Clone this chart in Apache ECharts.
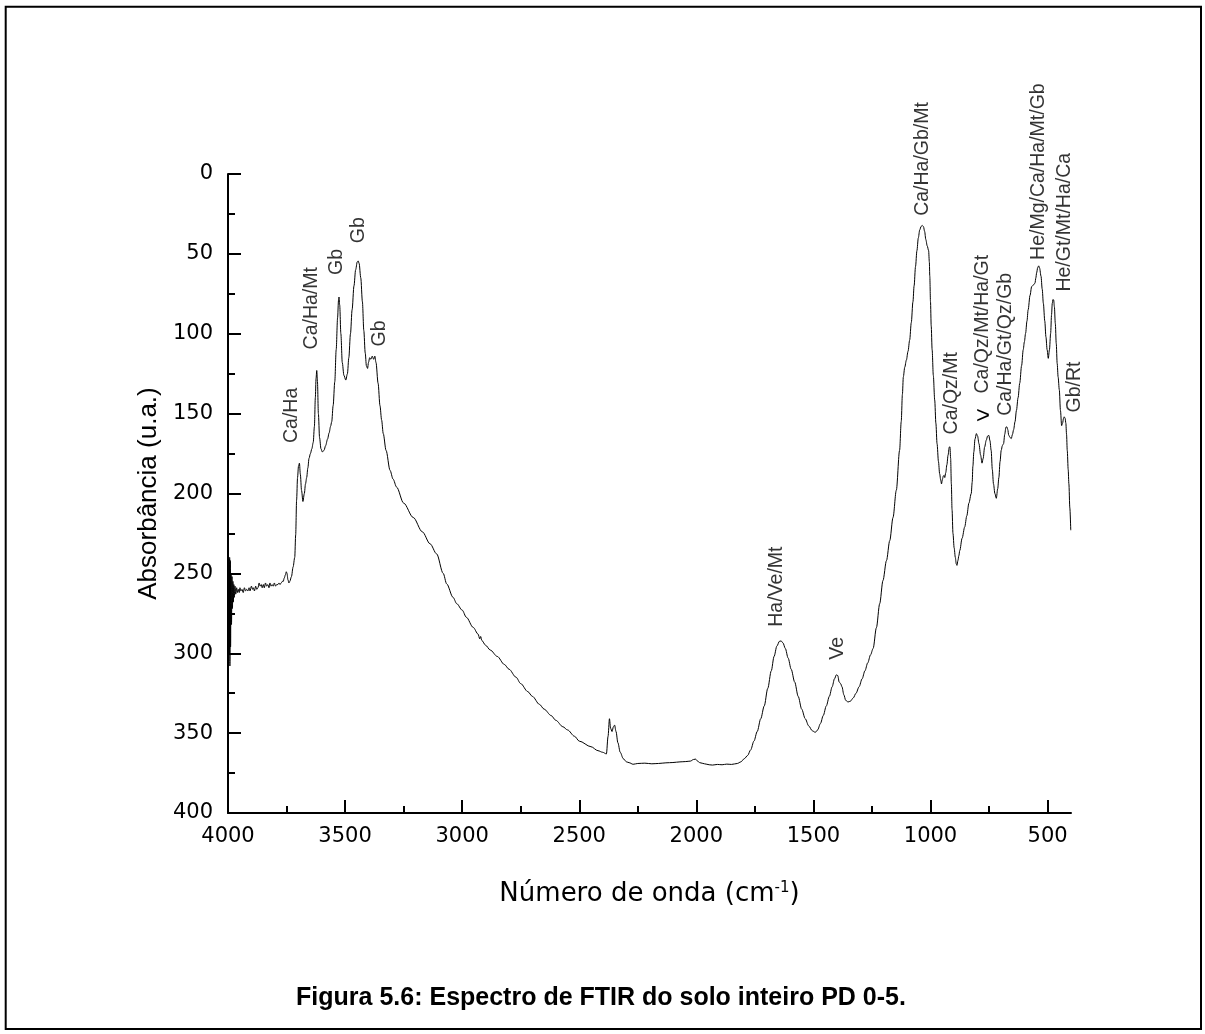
<!DOCTYPE html>
<html>
<head>
<meta charset="utf-8">
<title>Espectro de FTIR do solo inteiro PD 0-5</title>
<script src="https://cdn.jsdelivr.net/npm/echarts@6/dist/echarts.min.js"></script>
<style>
  html, body { margin: 0; padding: 0; background: #fff; }
  #chart { width: 1205px; height: 1034px; }
</style>
</head>
<body>
<div id="chart"></div>
<script>
// Spectrum, [wavenumber (cm-1), absorbance (u.a.)], split by region.
const hydroxylRegion = [
  [4000,258],[3998,262],[3997,248],[3996,270],[3995,245],[3994,300],[3993,240],[3992,308],[3990,242],[3989,296],
  [3987,250],[3985,282],[3983,252],[3981,272],[3979,255],[3977,268],[3975,257],[3973,265],[3970,258],[3967,263],
  [3963,259],[3960,262],[3956,260],[3952,262],[3949,259],[3945,261],[3940,260],[3935,262],[3930,259],[3925,261],
  [3920,260],[3915,261],[3910,259],[3906,261],[3900,258],[3895,260],[3892,259],[3887,261],[3882,258],[3877,260],
  [3872,259],[3867,256],[3863,258],[3858,257],[3854,259],[3849,257],[3845,259],[3840,256],[3835,258],[3830,257],
  [3825,259],[3821,256],[3816,258],[3812,257],[3807,258],[3802,256],[3797,258],[3792,257],[3787,257],[3782,256],
  [3778,257],[3773,256],[3768,255],[3764,255],[3760,253],[3755,251],[3751,249],[3748,250],[3744,254],[3740,256],
  [3736,255],[3729,252],[3722,246],[3715,240],[3711,226],[3707,204],[3703,190],[3699,183],[3695,181],[3691,188],
  [3686,198],[3680,205],[3674,200],[3669,194],[3664,190],[3659,184],[3654,178],[3648,175],[3642,172],[3636,168],
  [3631,158],[3627,140],[3624,128],[3621,123],[3618,130],[3614,150],[3609,165],[3603,172],[3597,174],[3590,173],
  [3583,170],[3575,166],[3568,162],[3562,158],[3557,155],[3551,145],[3544,130],[3538,110],[3532,90],[3528,79],
  [3526,77],[3523,82],[3518,100],[3512,118],[3505,126],[3497,129],[3490,125],[3484,115],[3477,100],[3470,85],
  [3462,70],[3455,60],[3448,55],[3444,54.4],[3440,56],[3433,65],[3426,80],[3420,98],[3414,112],[3409,120],
  [3404,121.7],[3400,118],[3395,115],[3390,116],[3384,114],[3378,116],[3373,114],[3368,118],[3359,131],[3351,145],
  [3344,154],[3337,162.5],[3325,173],[3308,185.5],[3295,191],[3280,196],[3250,206],[3209,215],[3170,224],[3137,231.5],
  [3109,237.8],[3081,250],[3066,256.6],[3039,265],[3023,269],[3000,273],[2982,277.5],[2953,283.8],[2932,288],[2925,291],
  [2921,289.5],[2916,292]
];

const midRegion = [
  [2900,295],[2880,298],[2850,302],[2820,307],[2800,310],[2770,315],[2750,319],[2720,324],[2700,327],[2670,332],
  [2650,335],[2620,339],[2600,342],[2570,346],[2550,348],[2520,352],[2500,355],[2450,358.5],[2420,361],[2400,362],
  [2384,363],[2377,352],[2371,341],[2366,347],[2360,349],[2354,346],[2349,345],[2343,349],[2335,356],[2325,362],
  [2312,366],[2298,368],[2287,368.5],[2270,369.5],[2250,369],[2220,368.8],[2190,369.2],[2162,369],[2130,368.6],[2100,368.4],
  [2070,368],[2045,367.8],[2025,367.5],[2012,366.5],[2003,366.3],[1995,367.5],[1985,368.5],[1965,369.2],[1945,369.8],[1931,370],
  [1910,369.6],[1890,369.8],[1870,369.4],[1850,369.6],[1825,369],[1810,368],[1795,366],[1781,364],[1768,360.5],[1754,355],
  [1740,349],[1725,341],[1710,333],[1695,322],[1680,311],[1668,302],[1656,295.5],[1645,292.5],[1638,292.3],[1630,293.5],
  [1620,297],[1608,303],[1595,310],[1580,318],[1565,327],[1550,335],[1535,341],[1520,345.5],[1505,348.5],[1492,349.5],
  [1482,348],[1470,344],[1458,339],[1445,333],[1432,327],[1420,321],[1410,316],[1402,313.5],[1396,314],[1390,318],
  [1384,319],[1378,321],[1370,326],[1362,329.5],[1352,330.5],[1342,330],[1330,328],[1318,325],[1305,321],[1292,316],
  [1280,311],[1268,306],[1256,301],[1245,297]
];

const fingerprintRegion = [
  [1231,284],[1217,269],[1203,254.5],[1188,242],[1174,229.5],[1160,215],[1146,198],[1132,173],[1125,155],[1120,138],
  [1116,127],[1110,121],[1103,116.5],[1096,111],[1089,104],[1082,93],[1075,80],[1070,70],[1064,58],[1058,48],
  [1052,40],[1046,35],[1040,32.8],[1035,32.2],[1030,33],[1025,36],[1020,41],[1014,45],[1008,48],[1005,55],
  [1003,64],[1000,80],[997,95],[993,110],[988,126],[982,141.5],[977,156],[972,168.8],[966,180],[961,187.6],
  [956,192],[953,194],[949,191],[945,189],[942,188.6],[939,190],[935,187],[930,182],[925,176],[920,171],
  [917,170.8],[914,178],[911,194],[908,210],[904,225],[899,234],[894,240],[890,244],[887,245],[883,242],
  [879,239],[875,235.7],[865,228],[854,221],[845,214],[836,206],[826,200],[822,193],[819,183],[815,174],
  [810,166],[804,162.5],[799,164],[793,168.8],[786,176],[780,181],[775,178],[769,171],[762,166.7],[756,164],
  [751,163.6],[746,167],[741,173],[736,185],[731,194],[725,200],[719,203],[713,197],[708,190],[703,180],
  [698,173],[693,170],[688,168.8],[683,163],[678,158.5],[674,158.3],[670,160],[666,163.5],[660,165],[655,165.6],
  [650,163],[645,160],[639,155],[633,148],[626,140],[619,131],[611,120],[604,110],[599,105],[594,99.8],
  [588,92],[583,85],[575,76],[568,70.5],[561,69.5],[554,68.4],[550,65],[547,62],[542,58.5],[538,57.5],
  [534,59],[528,64],[523,72],[518,81],[512,92],[507,102],[502,110],[497,115.4],[492,110],[487,99.8],
  [483,88],[480,81],[477,78.5],[474,78.9],[471,83],[467,93.5],[463,106],[459,118.6],[455,127],[450,135],
  [445,148],[440,157.5],[436,156],[432,153],[429,152],[425,153],[422,156],[419,163],[416,173],[412,185],
  [409,194],[405,209],[401,223]
];

// Wavenumber ticks
const majorTicks = [500, 1000, 1500, 2000, 2500, 3000, 3500, 4000];
const minorTicks = [750, 1250, 1750, 2250, 2750, 3250, 3750];

// Band assignments and where each one sits, [wavenumber, absorbance]
const bandLabels = [
  'Ca/Ha', 'Ca/Ha/Mt', 'Gb', 'Gb', 'Gb', 'Ha/Ve/Mt', 'Ve', 'Ca/Ha/Gb/Mt', 'Ca/Qz/Mt',
  'Ca/Qz/Mt/Ha/Gt', 'Ca/Ha/Gt/Qz/Gb', 'He/Mg/Ca/Ha/Mt/Gb', 'He/Gt/Mt/Ha/Ca', 'Gb/Rt'
];
const bandLabelAnchors = [
  [3730,168.4], [3643,109.8], [3537,63.2], [3441,43.3], [3354,108], [1657,283.4], [1398,304],
  [1035,26.2], [908,163], [779,137.4], [678,151.4], [538,53.8], [429,73.6], [383,149.3]
];
// pointer between the two bands near 800 and 750 cm-1
const pointerAnchor = [776, 152];

const spectrum = hydroxylRegion.concat(midRegion, fingerprintRegion);

const chart = echarts.init(document.getElementById('chart'), null, { renderer: 'canvas' });

const axisColor = '#000';
const tickFont = 'DejaVu Sans';
const plotBox = { left: 228, top: 174, width: 843, height: 639 };

chart.setOption({
  animation: false,
  backgroundColor: '#fff',
  // second grid shares the plot box and only carries the minor wavenumber ticks
  grid: [
    Object.assign({ containLabel: false }, plotBox),
    Object.assign({ containLabel: false }, plotBox)
  ],
  xAxis: [
    {
      gridIndex: 0,
      type: 'value', min: 400, max: 4000, inverse: true, position: 'bottom',
      axisLine: { show: true, onZero: false, lineStyle: { color: axisColor, width: 2 } },
      axisTick: { show: true, inside: true, length: 13, customValues: majorTicks, lineStyle: { color: axisColor, width: 2 } },
      axisLabel: {
        show: true, customValues: majorTicks, margin: 13, color: '#000',
        fontFamily: tickFont, fontSize: 21, formatter: v => String(v)
      },
      splitLine: { show: false },
      name: 'Número de onda (cm{sup|-1})',
      nameLocation: 'middle', nameGap: 68,
      nameTextStyle: {
        fontFamily: tickFont, fontSize: 26, color: '#000',
        rich: { sup: { fontFamily: tickFont, fontSize: 15, color: '#000', verticalAlign: 'top' } }
      }
    },
    {
      gridIndex: 1,
      type: 'value', min: 400, max: 4000, inverse: true, position: 'bottom',
      axisLine: { show: false, onZero: false },
      axisTick: { show: true, inside: true, length: 7, customValues: minorTicks, lineStyle: { color: axisColor, width: 2 } },
      axisLabel: { show: false },
      splitLine: { show: false }
    }
  ],
  yAxis: [
    {
      gridIndex: 0,
      type: 'value', min: 0, max: 400, interval: 50, inverse: true,
      axisLine: { show: true, onZero: false, lineStyle: { color: axisColor, width: 2 } },
      axisTick: { show: true, inside: true, length: 13, lineStyle: { color: axisColor, width: 2 } },
      minorTick: { show: true, splitNumber: 2, length: 7, lineStyle: { color: axisColor, width: 2 } },
      axisLabel: { margin: 15, color: '#000', fontFamily: tickFont, fontSize: 21, formatter: v => String(v) },
      splitLine: { show: false },
      name: 'Absorbância (u.a.)',
      nameLocation: 'middle', nameGap: 66,
      nameTextStyle: { fontFamily: 'Liberation Sans', fontSize: 26, color: '#000' }
    },
    {
      gridIndex: 1,
      type: 'value', min: 0, max: 400, inverse: true, show: false
    }
  ],
  series: [
    {
      name: 'PD 0-5',
      type: 'line',
      xAxisIndex: 0, yAxisIndex: 0,
      data: spectrum,
      showSymbol: false,
      symbol: 'none',
      smooth: 0.3,
      smoothMonotone: 'x',
      lineStyle: { color: '#000', width: 1 },
      silent: true
    },
    {
      type: 'scatter',
      xAxisIndex: 0, yAxisIndex: 0,
      data: bandLabelAnchors.map((p, i) => ({ value: p, name: bandLabels[i] })),
      symbolSize: 1,
      itemStyle: { color: 'rgba(0,0,0,0)' },
      clip: false,
      silent: true,
      label: {
        show: true, formatter: '{b}', position: 'inside', rotate: 90,
        align: 'left', verticalAlign: 'middle',
        fontFamily: 'Liberation Sans', fontSize: 19.5, color: '#000'
      }
    }
  ],
  graphic: [
    {
      type: 'rect', z: 0, silent: true,
      shape: { x: 5.7, y: 6.7, width: 1195.3, height: 1022.3 },
      style: { fill: 'none', stroke: '#000', lineWidth: 2 }
    },
    {
      type: 'text', silent: true,
      x: 601, y: 998,
      style: {
        text: 'Figura 5.6: Espectro de FTIR do solo inteiro PD 0-5.',
        font: 'bold 25px "Liberation Sans"',
        fill: '#000', align: 'center', verticalAlign: 'middle'
      }
    }
  ]
});

// the pointer glyph is placed through the axes' own scales
const pointerPx = chart.convertToPixel({ xAxisIndex: 0, yAxisIndex: 0 }, pointerAnchor);
chart.setOption({
  graphic: [
    {
      id: 'pointer', type: 'text', silent: true,
      x: pointerPx[0], y: pointerPx[1], rotation: 0,
      style: {
        text: '>', font: '24px "Liberation Sans"',
        fill: '#000', align: 'center', verticalAlign: 'middle'
      }
    }
  ]
});
</script>
</body>
</html>
